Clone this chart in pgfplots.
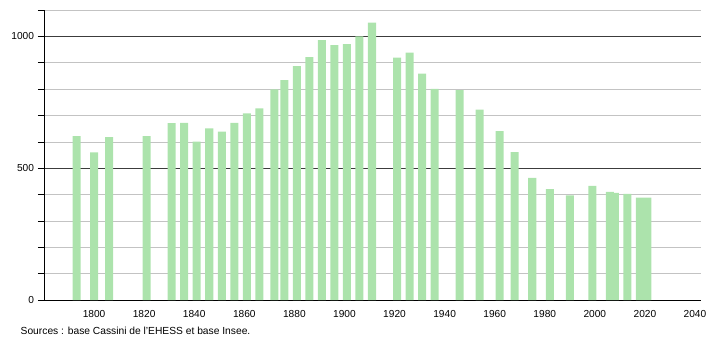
\documentclass[border=0pt]{standalone}
\usepackage{pgfplots}
\pgfplotsset{compat=1.18}
\usepackage{fontspec}
\setmainfont{Liberation Sans}
\definecolor{barg}{RGB}{172,227,172}
\definecolor{gridl}{RGB}{195,195,195}
\definecolor{gridd}{RGB}{60,60,60}
\begin{document}
\begin{tikzpicture}
\begin{axis}[
  name=ax,
  scale only axis,
  width=657bp, height=290bp,
  xmin=1780, xmax=2042.4,
  ymin=0, ymax=1100,
  axis x line=bottom, axis y line=left,
  axis line style={-, black, line width=0.8pt},
  xtick={1800,1820,...,2040},
  ytick={0,500,1000},
  minor ytick={100,200,...,1100},
  ymajorgrids, yminorgrids,
  major grid style={gridd, line width=0.6pt},
  minor grid style={gridl, line width=0.6pt},
  tick align=outside,
  xtick style={draw=none},
  ytick style={black, line width=0.6pt},
  major tick length=6bp, minor tick length=6bp,
  /pgf/number format/assume math mode=true,
  /pgf/number format/1000 sep={},
  ticklabel style={font=\fontsize{10.2}{12}\selectfont},
  yticklabel style={xshift=-0.5bp},
  xticklabel style={yshift=-0.5bp},
  clip=false,
]
\addplot[ybar, bar width=3.2, fill=barg, draw=none] coordinates {
(1793,622) (1800,560) (1806,618) (1821,622) (1831,671) (1836,672)
(1841,601) (1846,651) (1851,639) (1856,672) (1861,708) (1866,727)
(1872,799) (1876,834) (1881,887) (1886,921) (1891,986) (1896,967)
(1901,971) (1906,1000) (1911,1052) (1921,919) (1926,938) (1931,859)
(1936,801) (1946,796) (1954,722) (1962,641) (1968,561) (1975,463)
(1982,421) (1990,397) (1999,433) (2006,410) (2008,406) (2013,403)
(2018,388) (2021,388)
};
\end{axis}
\path[use as bounding box] ([xshift=-44bp,yshift=-40bp]ax.south west) rectangle ([xshift=9bp,yshift=10bp]ax.north east);
\node[anchor=base west, inner sep=0pt, font=\fontsize{10.3}{12}\selectfont] at ([xshift=-23.5bp,yshift=-34bp]ax.south west) {Sources : base Cassini de l'EHESS et base Insee.};
\end{tikzpicture}
\end{document}
